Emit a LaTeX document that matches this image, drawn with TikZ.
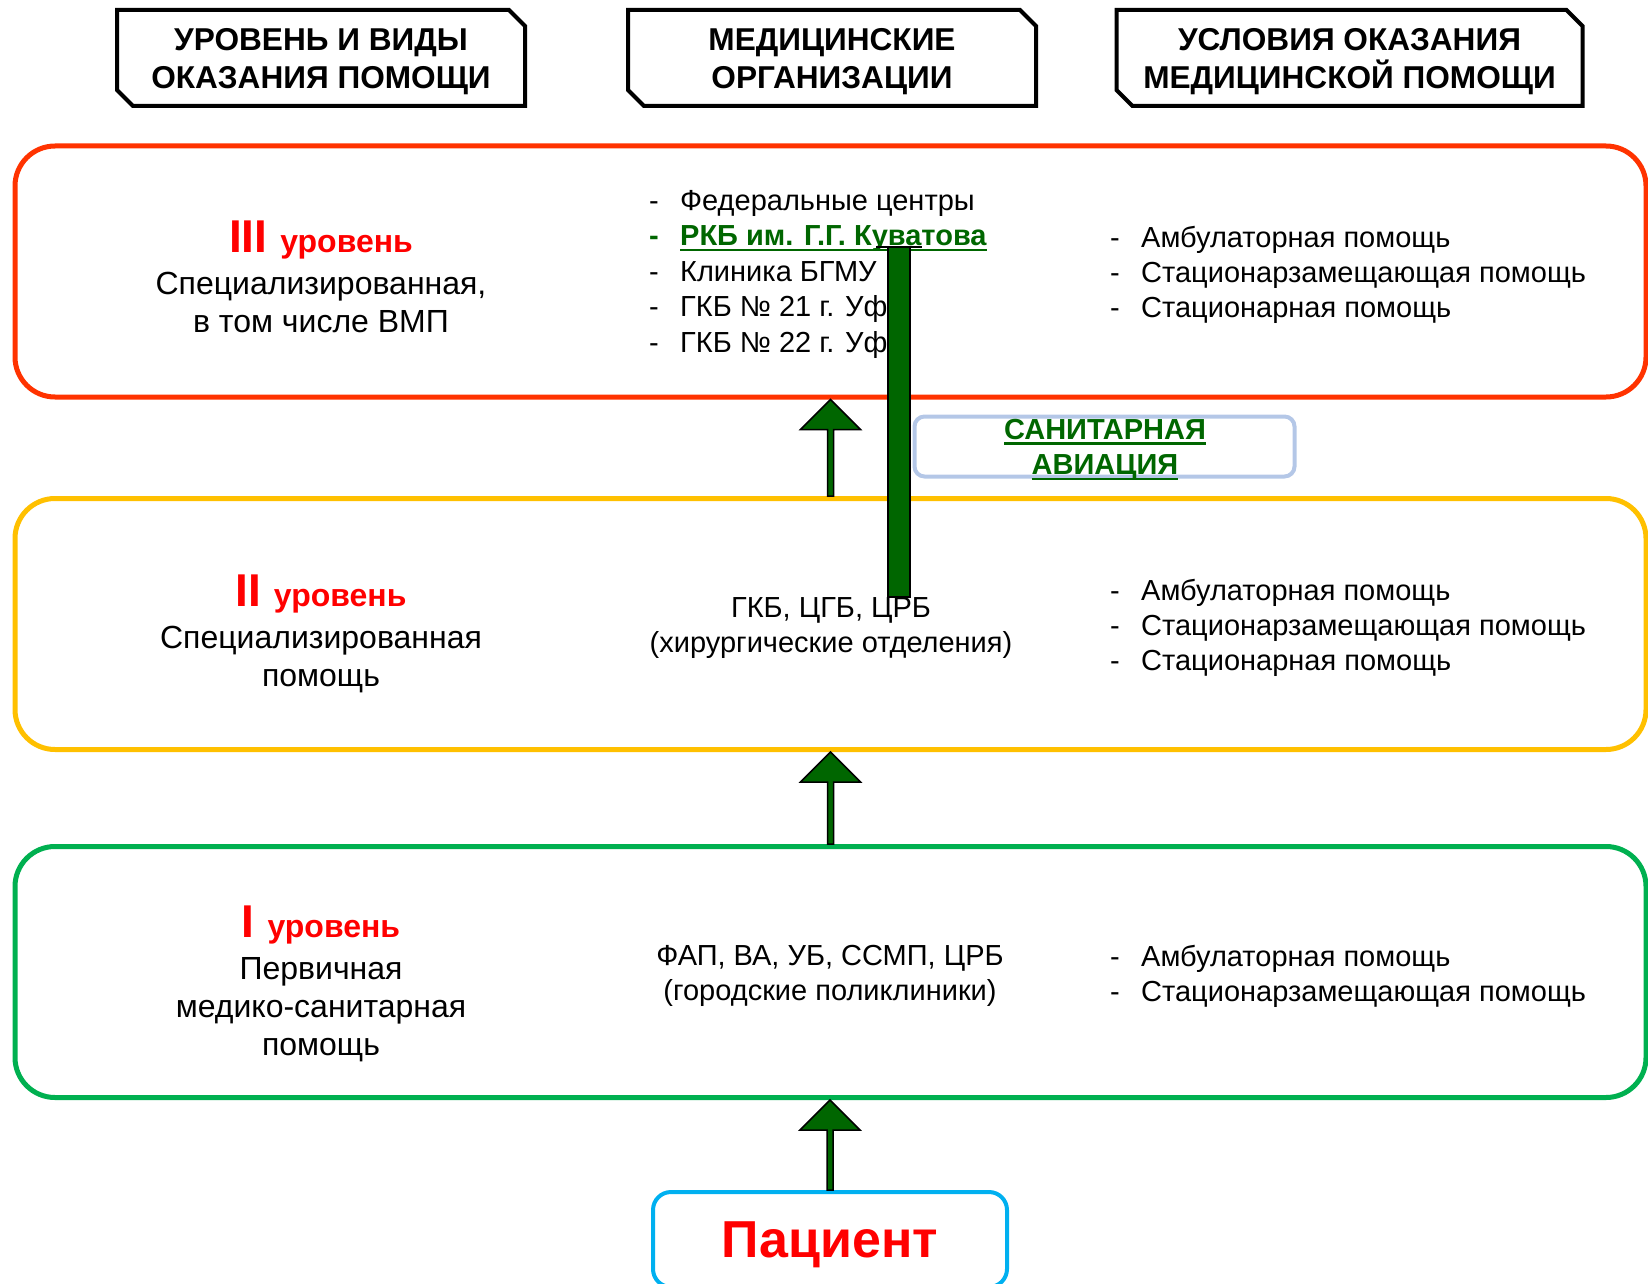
\documentclass[tikz,border=0pt]{standalone}
\usepackage{fontspec}
\setmainfont{Liberation Sans}
\usetikzlibrary{shapes.misc}
\usetikzlibrary{calc}

\definecolor{lvlred}{RGB}{255,51,0}
\definecolor{lvlyellow}{RGB}{255,192,0}
\definecolor{lvlgreen}{RGB}{0,176,80}
\definecolor{patblue}{RGB}{0,176,240}
\definecolor{avgreen}{RGB}{0,102,0}
\definecolor{avframe}{RGB}{180,199,231}
\definecolor{txtred}{RGB}{255,0,0}

\newsavebox{\ulbox}
\newcommand{\ulined}[1]{\sbox{\ulbox}{#1}\rlap{\rule[-5.8pt]{\wd\ulbox}{2.8pt}}\usebox{\ulbox}}
\newcommand{\headfont}{\fontsize{31.6}{38}\selectfont\bfseries}
\newcommand{\lvlnum}{\fontsize{46}{46}\selectfont\bfseries\color{txtred}}
\newcommand{\lvlword}{\fontsize{32}{32}\selectfont\bfseries\color{txtred}}
\newcommand{\dashitem}{\makebox[31pt][l]{-}}
\newcommand{\raisearrow}[2]{%
  \draw[liftarrow] let \p1=(#1), \p2=(#2) in
    (\x1-3pt,\y1) -- (\x1-3pt,\y2-30pt) -- (\x1-30pt,\y2-30pt) -- (\x1,\y2)
    -- (\x1+30pt,\y2-30pt) -- (\x1+3pt,\y2-30pt) -- (\x1+3pt,\y1) -- cycle;}

\begin{document}
\begin{tikzpicture}[x=1pt,y=-1pt,
  headbox/.style={draw, line width=4pt, chamfered rectangle,
    chamfered rectangle corners={north east,south west},
    chamfered rectangle sep=8pt, minimum width=408pt, minimum height=96pt,
    inner sep=0pt, text depth=0pt, align=center, font=\headfont},
  levelbox/.style={draw=#1, line width=5pt, rounded corners=40pt,
    minimum width=1631pt, minimum height=251pt, inner sep=0pt},
  sidetext/.style={anchor=base, align=center, font=\fontsize{32}{38}\selectfont},
  midtext/.style={anchor=base, align=center, font=\fontsize{29}{35}\selectfont},
  listtext/.style={anchor=base west, align=left, inner sep=0pt,
    font=\fontsize{29}{35}\selectfont},
  liftarrow/.style={draw=black, fill=avgreen, line width=1.5pt}]
 	\useasboundingbox (0,0) rectangle (1648,1284);

 	\node[headbox] (hlevel) at (321,58) {УРОВЕНЬ И ВИДЫ\\ОКАЗАНИЯ ПОМОЩИ};
 	\node[headbox] (horg) at (832,58) {МЕДИЦИНСКИЕ\\ОРГАНИЗАЦИИ};
 	\node[headbox, minimum width=466pt] (hcond) at (1349.5,58) {УСЛОВИЯ ОКАЗАНИЯ\\МЕДИЦИНСКОЙ ПОМОЩИ};

 	\node[levelbox=lvlred] (lvl3) at (830.5,271.5) {};
 	\node[levelbox=lvlyellow] (lvl2) at (830.5,624) {};
 	\node[levelbox=lvlgreen] (lvl1) at (830.5,972) {};
 	\node[draw=patblue, line width=4pt, rounded corners=18pt, minimum width=354pt,
 		minimum height=95pt, text depth=0pt, text=txtred, font=\fontsize{52}{52}\selectfont\bfseries]
 		(pat) at (830,1239.5) {Пациент};

 	\node[sidetext] (kind3) at (321,332) {{\lvlnum III }{\lvlword уровень}\\[4pt]Специализированная,\\в том числе ВМП};
 	\node[sidetext] (kind2) at (321,686) {{\lvlnum II }{\lvlword уровень}\\[4pt]Специализированная\\помощь};
 	\node[sidetext] (kind1) at (321,1055) {{\lvlnum I }{\lvlword уровень}\\[4pt]Первичная\\медико-санитарная\\помощь};

 	\node[listtext, font=\fontsize{29}{35.5}\selectfont] (orgs3) at (649,352)
 		{\dashitem Федеральные центры\\{\color{avgreen}\bfseries\dashitem\ulined{РКБ им. Г.Г. Куватова}}\\\dashitem Клиника БГМУ\\\dashitem ГКБ № 21 г. Уфа\\\dashitem ГКБ № 22 г. Уфа};
 	\node[midtext] (orgs2) at (831,652) {ГКБ, ЦГБ, ЦРБ\\(хирургические отделения)};
 	\node[midtext] (orgs1) at (830,1000) {ФАП, ВА, УБ, ССМП, ЦРБ\\(городские поликлиники)};

 	\node[listtext] (cond3) at (1110,317.5) {\dashitem Амбулаторная помощь\\\dashitem Стационарзамещающая помощь\\\dashitem Стационарная помощь};
 	\node[listtext] (cond2) at (1110,670) {\dashitem Амбулаторная помощь\\\dashitem Стационарзамещающая помощь\\\dashitem Стационарная помощь};
 	\node[listtext] (cond1) at (1110,1001) {\dashitem Амбулаторная помощь\\\dashitem Стационарзамещающая помощь};

 	\node[draw=avframe, line width=4pt, rounded corners=10pt, minimum width=380pt,
 		minimum height=60pt, inner sep=0pt] (avia) at (1104.5,446.5) {};
 	\node[anchor=base, align=center, text=avgreen, font=\fontsize{29}{35.5}\selectfont\bfseries]
 		(aviatext) at (1105,474.5) {\ulined{САНИТАРНАЯ}\\\ulined{АВИАЦИЯ}};

 	\raisearrow{pat.north}{lvl1.south}
 	\raisearrow{lvl1.north}{lvl2.south}
 	\raisearrow{lvl2.north}{lvl3.south}

 	\coordinate (avtop) at (899,247);
 	\coordinate (avbot) at (899,597);
 	\draw[liftarrow, line width=1.2pt] ([xshift=-11pt]avbot) rectangle ([xshift=11pt]avtop);
 	\draw[line width=2pt] ([xshift=-23pt]avtop) -- ([xshift=23pt]avtop);
\end{tikzpicture}
\end{document}
